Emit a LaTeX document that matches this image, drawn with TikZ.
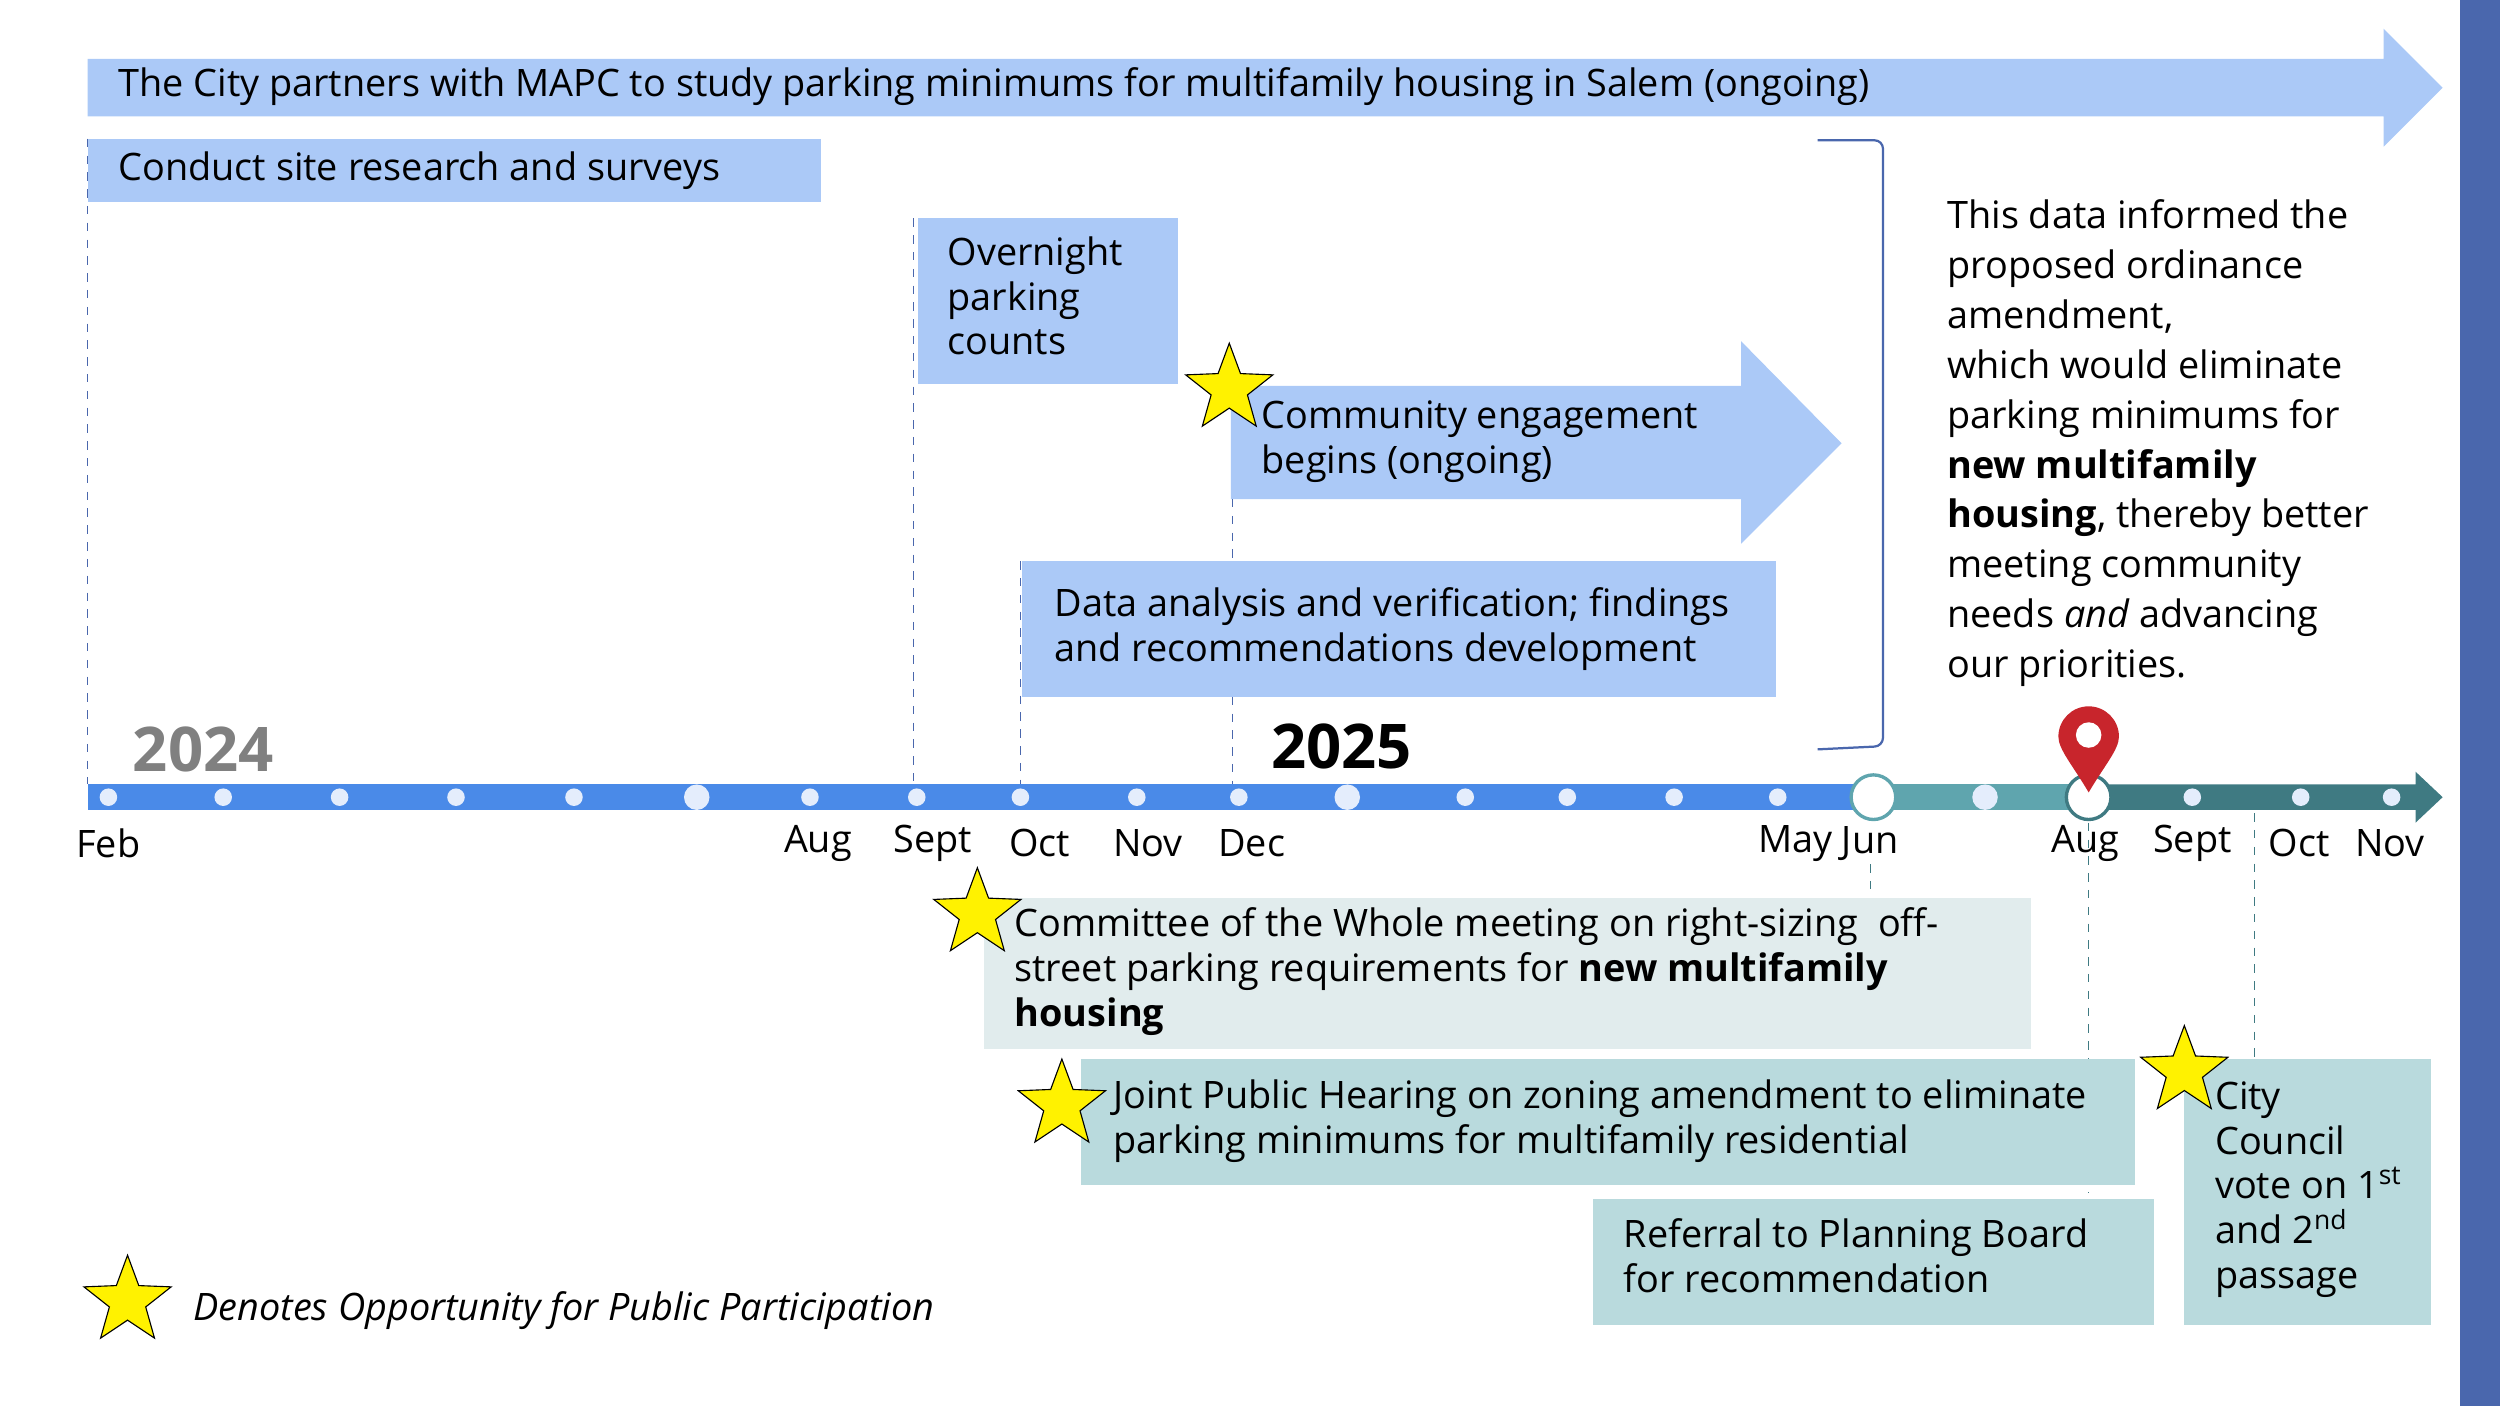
\documentclass[tikz,border=0pt]{standalone}
\usepackage{fontspec}
\setmainfont{Open Sans}
\usetikzlibrary{shapes.geometric,positioning}
\definecolor{lblue}{HTML}{ABC9F7}
\definecolor{tblue}{HTML}{4A8AE8}
\definecolor{teal1}{HTML}{5FA5AE}
\definecolor{teal2}{HTML}{3F7A82}
\definecolor{pale}{HTML}{E1ECED}
\definecolor{mint}{HTML}{B9DADD}
\definecolor{sidebar}{HTML}{4A67AD}
\definecolor{pinred}{HTML}{C8252C}
\tikzset{
  txt/.style = {anchor = north west, inner sep = 0pt, align = left,
    font = \fontsize{13.5}{16}\selectfont},
  box/.style = {txt, font = \fontsize{13.5}{16}\selectfont},
  vline/.style = {dashed, thin},
  pstar/.style = {star, star points = 5, star point ratio = 2.4,
    minimum size = 1.15cm, fill = yellow, draw = black, thin, inner sep = 0pt},
  dot/.style = {circle, fill = white!85!tblue, inner sep = 0pt, minimum size = 0.22cm},
  mon/.style = {font = \fontsize{13.5}{16}\selectfont, inner sep = 0pt}
}
\begin{document}
\begin{tikzpicture}[x = 0.02cm, y = -0.02cm]
  \useasboundingbox (0,0) rectangle (1568,882);
  \fill[sidebar] (1543,0) rectangle (1568,882);
  % top arrow
  \fill[lblue] (55,37) -- (1495,37) -- (1495,18) -- (1532,55) -- (1495,92)
    -- (1495,73) -- (55,73) -- cycle;
  \node[txt] (study) at (74,42) {The City partners with MAPC to study parking minimums for multifamily housing in Salem (ongoing)};
  % boxes
  \fill[lblue] (55,87) rectangle (515,127);
  \node[txt] (site) at (74,95) {Conduct site research and surveys};
  \fill[lblue] (576,137) rectangle (739,241);
  \node[box] (night) at (594,148) {Overnight\\parking\\counts};
  \fill[lblue] (772,242) -- (1092,242) -- (1092,214) -- (1155,278) -- (1092,341)
    -- (1092,313) -- (772,313) -- cycle;
  \node[box] (engage) at (791,251) {Community engagement\\begins (ongoing)};
  \fill[lblue] (641,352) rectangle (1114,437);
  \node[box] (data) at (661,368) {Data analysis and verification; findings\\and recommendations development};
  % bracket
  \draw[sidebar, thick, rounded corners = 3pt] (1140,88) -- (1181,88) -- (1181,468) -- (1140,470);
  \node[txt, font = \fontsize{13.5}{17.8}\selectfont] (note) at (1221,125) {This data informed the\\proposed ordinance\\amendment,\\which would eliminate\\parking minimums for\\\textbf{new multifamily}\\\textbf{housing}, thereby better\\meeting community\\needs \textit{and} advancing\\our priorities.};
  % years
  \node[anchor = west, inner sep = 0pt, font = \fontsize{22}{24}\bfseries, text = gray] (y24) at (83,470) {2024};
  \node[anchor = west, inner sep = 0pt, font = \fontsize{22}{24}\bfseries] (y25) at (797,468) {2025};
  % timeline
  \fill[tblue] (55,492) rectangle (1175,508);
  \fill[teal1] (1175,492) rectangle (1310,508);
  \fill[teal2] (1310,492) -- (1515,492) -- (1515,484) -- (1532,500) -- (1515,516)
    -- (1515,508) -- (1310,508) -- cycle;
  \foreach \x in {68,140,213,286,360,508,575,640,713,777,919,983,1050,1115,1375,1443,1500}
    \node[dot] at (\x,500) {};
  \foreach \x in {437,845,1245}
    \node[dot, minimum size = 0.32cm] at (\x,500) {};
  \node[circle, draw = teal1, line width = 1.2pt, fill = white, minimum size = 0.56cm] (jun) at (1175,500) {};
  \node[circle, draw = teal2, line width = 1.2pt, fill = white, minimum size = 0.56cm] (aug) at (1310,500) {};
  % pin
  \fill[pinred] (1310,497) .. controls (1300,480) and (1291,470) .. (1291,462)
    arc[start angle = 180, end angle = 360, radius = 19] .. controls (1329,470) and (1320,480) .. (1310,497);
  \fill[white] (1310,461) circle[radius = 8];
  % months
  \foreach \x/\m in {68/Feb,513/Aug,585/Sept,652/Oct,720/Nov,785/Dec,1126/May,1173/Jun,1308/Aug,1375/Sept,1442/Oct,1499/Nov}
    \node[mon] at (\x,529) {\m};
  % dashed lines
  \draw[vline, sidebar] (55,87) -- (55,492);
  \draw[vline, sidebar] (573,137) -- (573,492);
  \draw[vline, sidebar] (640,352) -- (640,492);
  \draw[vline, sidebar] (773,313) -- (773,352);
  \draw[vline, sidebar] (773,437) -- (773,492);
  \draw[vline, teal2] (1173,542) -- (1173,563);
  \draw[vline, teal2] (1310,516) -- (1310,748);
  \draw[vline, teal2] (1414,510) -- (1414,664);
  % lower boxes
  \fill[pale] (617,563) rectangle (1274,658);
  \node[box] (cow) at (636,569) {Committee of the Whole meeting on right-sizing\ \ off-\\street parking requirements for \textbf{new multifamily}\\\textbf{housing}};
  \fill[mint] (678,664) rectangle (1339,743);
  \node[box] (hear) at (698,677) {Joint Public Hearing on zoning amendment to eliminate\\parking minimums for multifamily residential};
  \fill[mint] (999,752) rectangle (1351,831);
  \node[box] (board) at (1018,764) {Referral to Planning Board\\for recommendation};
  \fill[mint] (1370,664) rectangle (1525,831);
  \node[box] (vote) at (1389,678) {City\\Council\\vote on 1\textsuperscript{st}\\and 2\textsuperscript{nd}\\passage};
  % stars
  \node[pstar] (s1) at (771,244) {};
  \node[pstar] (s2) at (613,573) {};
  \node[pstar] (s3) at (666,693) {};
  \node[pstar] (s4) at (1370,672) {};
  \node[pstar] (s5) at (80,816) {};
  \node[anchor = west, inner sep = 0pt, font = \fontsize{13.5}{16}\itshape] (legend) at (121,822) {Denotes Opportunity for Public Participation};
\end{tikzpicture}
\end{document}
